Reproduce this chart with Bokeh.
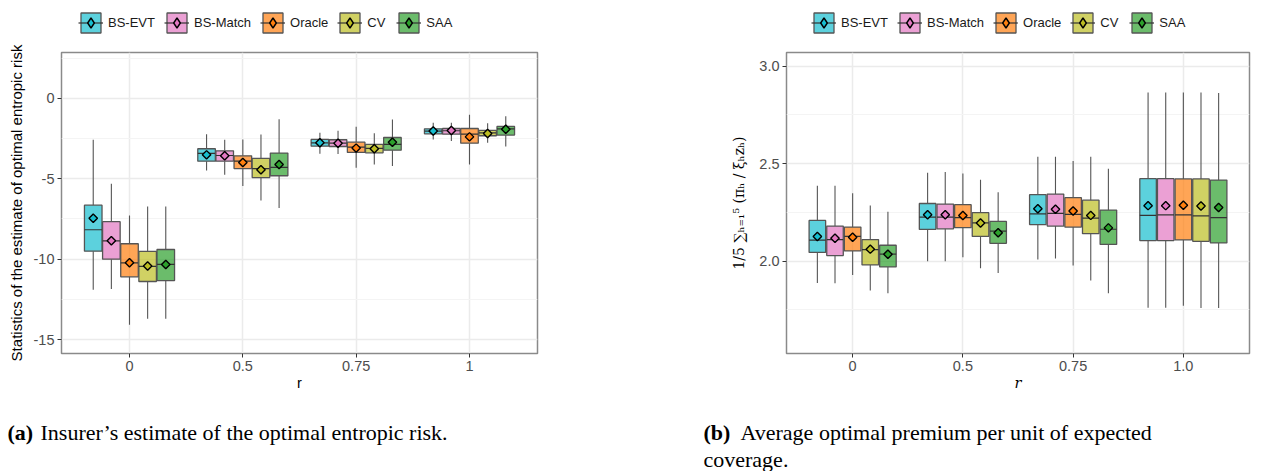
from math import pi
from bokeh.plotting import figure
from bokeh.models import (ColumnDataSource, FactorRange, Range1d, FixedTicker,
                          Legend, LegendItem, Label)
from bokeh.transform import dodge
from bokeh.layouts import row, column
from bokeh.embed import file_html
from bokeh.resources import INLINE

METHODS = ["BS-EVT", "BS-Match", "Oracle", "CV", "SAA"]
COLORS = ["#17BECF", "#E377C2", "#FF7F0E", "#BCBD22", "#2CA02C"]
R_A = ["0", "0.5", "0.75", "1"]
R_B = ["0", "0.5", "0.75", "1.0"]

# ---------- panel (a): estimate of optimal entropic risk ----------
A_LO = {"BS-EVT": [-11.9, -4.48, -3.44, -2.55], "BS-Match": [-11.85, -4.75, -3.46, -2.65],
        "Oracle": [-14.08, -5.44, -4.31, -4.11], "CV": [-13.71, -6.35, -4.11, -2.76],
        "SAA": [-13.71, -6.82, -4.21, -2.99]}
A_Q1 = {"BS-EVT": [-9.50, -3.90, -2.97, -2.20], "BS-Match": [-10.0, -3.90, -2.99, -2.22],
        "Oracle": [-11.1, -4.36, -3.36, -2.78], "CV": [-11.39, -4.92, -3.38, -2.32],
        "SAA": [-11.33, -4.81, -3.22, -2.28]}
A_MED = {"BS-EVT": [-8.17, -3.42, -2.76, -2.03], "BS-Match": [-8.86, -3.55, -2.78, -2.01],
         "Oracle": [-10.23, -3.90, -3.03, -2.22], "CV": [-10.45, -4.36, -3.11, -2.14],
         "SAA": [-10.33, -4.29, -2.86, -1.89]}
A_Q3 = {"BS-EVT": [-6.64, -3.13, -2.55, -1.89], "BS-Match": [-7.67, -3.26, -2.57, -1.87],
        "Oracle": [-9.04, -3.57, -2.72, -1.87], "CV": [-9.52, -3.73, -2.86, -1.99],
        "SAA": [-9.40, -3.40, -2.43, -1.74]}
A_HI = {"BS-EVT": [-2.57, -2.22, -2.14, -1.51], "BS-Match": [-5.31, -2.57, -2.01, -1.51],
        "Oracle": [-7.28, -2.55, -1.76, -1.02], "CV": [-6.72, -2.24, -2.16, -1.55],
        "SAA": [-6.72, -1.29, -1.31, -1.10]}
A_MEAN = {"BS-EVT": [-7.45, -3.51, -2.76, -2.03], "BS-Match": [-8.86, -3.57, -2.78, -1.99],
          "Oracle": [-10.23, -3.98, -3.09, -2.39], "CV": [-10.43, -4.44, -3.13, -2.18],
          "SAA": [-10.33, -4.11, -2.72, -1.91]}
A_TICKS = [-15, -10, -5, 0]
A_MINOR = [-12.5, -7.5, -2.5, 2.5]

# ---------- panel (b): average optimal premium per unit of coverage ----------
B_LO = {"BS-EVT": [1.889, 2.000, 2.009, 1.761], "BS-Match": [1.887, 2.000, 2.014, 1.761],
        "Oracle": [1.930, 2.021, 1.978, 1.772], "CV": [1.850, 1.964, 1.901, 1.760],
        "SAA": [1.836, 1.940, 1.836, 1.760]}
B_Q1 = {"BS-EVT": [2.045, 2.163, 2.188, 2.106], "BS-Match": [2.029, 2.166, 2.180, 2.106],
        "Oracle": [2.053, 2.172, 2.175, 2.109], "CV": [1.981, 2.127, 2.141, 2.102],
        "SAA": [1.971, 2.092, 2.086, 2.094]}
B_MED = {"BS-EVT": [2.108, 2.226, 2.243, 2.235], "BS-Match": [2.111, 2.226, 2.245, 2.238],
         "Oracle": [2.127, 2.224, 2.240, 2.238], "CV": [2.060, 2.197, 2.221, 2.233],
         "SAA": [2.036, 2.154, 2.164, 2.224]}
B_Q3 = {"BS-EVT": [2.209, 2.296, 2.341, 2.423], "BS-Match": [2.180, 2.293, 2.344, 2.423],
        "Oracle": [2.175, 2.290, 2.326, 2.422], "CV": [2.111, 2.249, 2.313, 2.422],
        "SAA": [2.082, 2.204, 2.262, 2.416]}
B_HI = {"BS-EVT": [2.387, 2.454, 2.536, 2.865], "BS-Match": [2.387, 2.457, 2.536, 2.865],
        "Oracle": [2.348, 2.450, 2.514, 2.865], "CV": [2.286, 2.418, 2.536, 2.865],
        "SAA": [2.254, 2.353, 2.474, 2.863]}
B_MEAN = {"BS-EVT": [2.127, 2.238, 2.269, 2.285], "BS-Match": [2.118, 2.238, 2.267, 2.285],
          "Oracle": [2.123, 2.234, 2.257, 2.287], "CV": [2.062, 2.196, 2.235, 2.283],
          "SAA": [2.036, 2.146, 2.171, 2.276]}
B_TICKS = [2.0, 2.5, 3.0]
B_MINOR = [1.75, 2.25, 2.75]

OFFSETS = [-0.32, -0.16, 0.0, 0.16, 0.32]
SANS = "Liberation Sans"
SERIF = "Liberation Serif"
BOX_LINE = "#555555"
MED_LINE = "#333333"
NAN = float("nan")


def legend_fig(width, height, loc):
    f = figure(width=width, height=height, x_range=Range1d(0, 1), y_range=Range1d(0, 1),
               x_axis_type=None, y_axis_type=None, output_backend="svg",
               toolbar_location=None, min_border=0, outline_line_color=None)
    f.grid.visible = False
    items = []
    for i, m in enumerate(METHODS):
        c = COLORS[i]
        # a single undefined point: nothing is drawn in this strip, only the key
        src = ColumnDataSource(dict(x=[NAN], y=[NAN], top=[NAN], bottom=[NAN]))
        box = f.vbar(x="x", width=0.1, top="top", bottom="bottom", source=src,
                     fill_color=c, fill_alpha=0.7, line_color=BOX_LINE, line_width=1.3)
        md = f.segment(x0="x", y0="y", x1="x", y1="y", source=src,
                       line_color=MED_LINE, line_width=1.2)
        mn = f.scatter(x="x", y="y", source=src, marker="diamond",
                       size=6, fill_color=c, line_color="black", line_width=1.4)
        items.append(LegendItem(label=m, renderers=[box, md, mn]))
    leg = Legend(items=items, orientation="horizontal", location=loc,
                 glyph_width=25, glyph_height=25, label_standoff=5, spacing=9,
                 padding=4, margin=0, border_line_color=None,
                 background_fill_alpha=0, label_text_font=SANS,
                 label_text_font_size="13px", label_text_color="#1a1a1a")
    f.add_layout(leg)
    return f


def panel(r_labels, lo, q1, med, q3, hi, mean, ticks, minor, yr, frame_w, frame_h,
          borders, box_w, ylabel, ylabel_font, ylabel_size, ylabel_standoff,
          xlabel_font, xlabel_style):
    bl, br, bt, bb = borders
    p = figure(x_range=FactorRange(factors=r_labels, range_padding=0.1,
                                   range_padding_units="absolute"),
               y_range=Range1d(*yr), frame_width=frame_w, frame_height=frame_h,
               min_border_left=bl, min_border_right=br, min_border_top=bt,
               min_border_bottom=bb, output_backend="svg", toolbar_location=None,
               background_fill_color="white", border_fill_color="white")
    p.outline_line_color = "#8a8a8a"
    p.outline_line_width = 1.5
    for i, m in enumerate(METHODS):
        c = COLORS[i]
        off = OFFSETS[i]
        src = ColumnDataSource(dict(r=r_labels, lo=lo[m], q1=q1[m], med=med[m],
                                    q3=q3[m], hi=hi[m], mean=mean[m]))
        xd = dodge("r", off, range=p.x_range)
        p.segment(x0=xd, y0="lo", x1=xd, y1="q1", source=src,
                  line_color=BOX_LINE, line_width=1.1)
        p.segment(x0=xd, y0="q3", x1=xd, y1="hi", source=src,
                  line_color=BOX_LINE, line_width=1.1)
        p.vbar(x=xd, width=box_w, bottom="q1", top="q3", source=src,
               fill_color=c, fill_alpha=0.7, line_color=BOX_LINE, line_width=1.3)
        p.segment(x0=dodge("r", off - box_w / 2, range=p.x_range), y0="med",
                  x1=dodge("r", off + box_w / 2, range=p.x_range), y1="med",
                  source=src, line_color=MED_LINE, line_width=1.2)
        p.scatter(x=xd, y="mean", source=src, marker="square", angle=pi / 4,
                  size=6, fill_color=c, line_color="black", line_width=1.4)

    p.yaxis.ticker = FixedTicker(ticks=ticks, minor_ticks=minor)
    p.yaxis.major_label_overrides = {t: (f"{t:.1f}" if isinstance(t, float) else str(t))
                                     for t in ticks}
    for ax in (p.xaxis[0], p.yaxis[0]):
        ax.axis_line_color = None
        ax.major_tick_in = 0
        ax.major_tick_out = 4
        ax.minor_tick_out = 0
        ax.minor_tick_in = 0
        ax.major_tick_line_color = "#333333"
        ax.major_label_standoff = 3
        ax.major_label_text_font = SANS
        ax.major_label_text_font_size = "14.5px"
        ax.major_label_text_color = "#4d4d4d"
        ax.axis_label_text_color = "black"
    p.yaxis.axis_label = ylabel
    p.yaxis.axis_label_text_font = ylabel_font
    p.yaxis.axis_label_text_font_size = ylabel_size
    p.yaxis.axis_label_text_font_style = "normal"
    p.yaxis.axis_label_standoff = ylabel_standoff
    p.xaxis.axis_label = "r"
    p.xaxis.axis_label_text_font = xlabel_font
    p.xaxis.axis_label_text_font_size = "14.5px"
    p.xaxis.axis_label_text_font_style = xlabel_style
    p.xaxis.axis_label_standoff = 1

    p.xgrid.grid_line_color = "#ebebeb"
    p.xgrid.grid_line_width = 1.5
    p.ygrid.grid_line_color = "#ebebeb"
    p.ygrid.grid_line_width = 1.5
    p.ygrid.minor_grid_line_color = "#f4f4f4"
    p.ygrid.minor_grid_line_width = 1
    return p


LEG_H = 44
l1 = legend_fig(640, LEG_H, (78, 9))
l2 = legend_fig(619, LEG_H, (171, 9))

p1 = panel(R_A, A_LO, A_Q1, A_MED, A_Q3, A_HI, A_MEAN, A_TICKS, A_MINOR,
           (-15.87, 2.86), 476, 301, (61, 103, 8, 47), 0.155,
           "Statistics of the estimate of optimal entropic risk", SANS, "15px", 6,
           SANS, "normal")
p2 = panel(R_B, B_LO, B_Q1, B_MED, B_Q3, B_HI, B_MEAN, B_TICKS, B_MINOR,
           (1.527, 3.070), 463, 301, (146, 10, 8, 47), 0.15,
           "1/5 \u2211\u2095\u208c\u2081\u2075 (\u03c0\u2095 / \u03be\u2095z\u2095)",
           "DejaVu Serif", "14px", 9, "DejaVu Serif", "italic")


def caption(width, height, parts):
    c = figure(width=width, height=height, x_range=Range1d(0, width),
               y_range=Range1d(height, 0), x_axis_type=None, y_axis_type=None,
               output_backend="svg", toolbar_location=None, min_border=0,
               outline_line_color=None)
    c.grid.visible = False
    for (x, y, txt, style) in parts:
        c.add_layout(Label(x=x, y=y, text=txt, text_font=SERIF, text_font_size="22px",
                           text_font_style=style, text_baseline="alphabetic",
                           text_color="black"))
    return c


c1 = caption(640, 71, [(7, 32, "(a)", "bold"),
                       (40, 32, "Insurer\u2019s estimate of the optimal entropic risk.",
                        "normal")])
c2 = caption(619, 71, [(63, 32, "(b)", "bold"),
                       (100, 32, "Average optimal premium per unit of expected", "normal"),
                       (63, 59, "coverage.", "normal")])

layout = column(row(l1, l2), row(p1, p2), row(c1, c2))
open("out.html", "w").write(file_html(layout, INLINE))
